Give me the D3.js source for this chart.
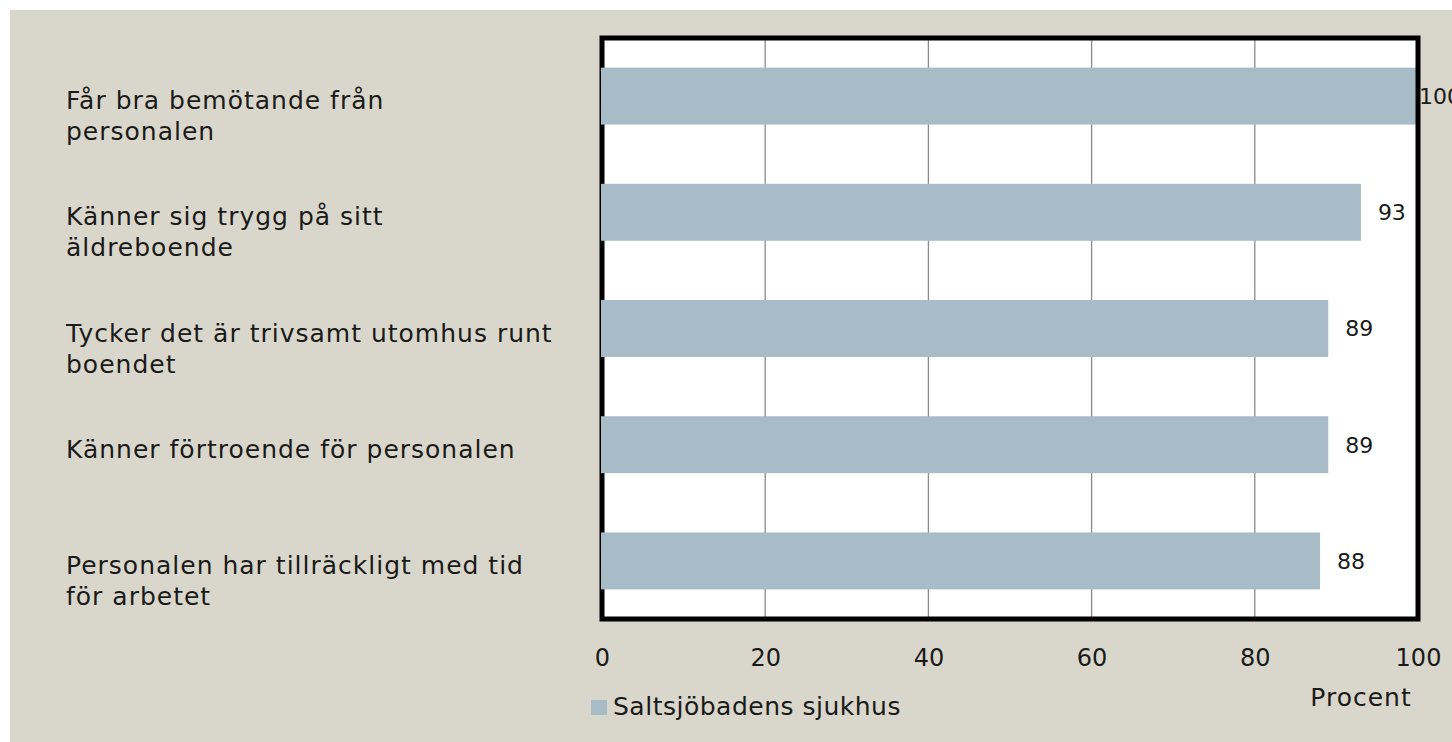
<!DOCTYPE html>
<html>
<head>
<meta charset="utf-8">
<script src="https://cdn.jsdelivr.net/npm/d3@7"></script>
<style>
body { margin: 0; background: #fff; }
text { font-family: "DejaVu Sans", sans-serif; fill: #1a1a1a; }
.grid-line { stroke: #8a8a8a; stroke-width: 1.3; }
</style>
</head>
<body>
<script>
const width = 1452, height = 742;

const categories = [
    ["Får bra bemötande från", "personalen"],
    ["Känner sig trygg på sitt", "äldreboende"],
    ["Tycker det är trivsamt utomhus runt", "boendet"],
    ["Känner förtroende för personalen"],
    ["Personalen har tillräckligt med tid", "för arbetet"]
];
const values = [100, 93, 89, 89, 88];
const tickValues = [0, 20, 40, 60, 80, 100];
const seriesName = "Saltsjöbadens sjukhus";
const axisTitle = "Procent";

const plot = {left: 602, right: 1418, top: 38, bottom: 619};

const svg = d3.select("body").append("svg")
.attr("width", width)
.attr("height", height);

svg.append("rect")
.attr("x", 10)
.attr("y", 10)
.attr("width", width - 10)
.attr("height", height - 10)
.attr("fill", "#d9d7cb");

const scaleX = d3.scaleLinear()
.domain([0, 100])
.range([plot.left, plot.right]);

const scaleY = d3.scaleBand()
.domain(d3.range(categories.length))
.range([plot.top, plot.bottom])
.paddingInner(0.51)
.paddingOuter(0.255);

svg.append("rect")
.attr("x", plot.left)
.attr("y", plot.top)
.attr("width", plot.right - plot.left)
.attr("height", plot.bottom - plot.top)
.attr("fill", "#fff");

// grid lines
svg.append("g")
.selectAll("line")
.data(tickValues.slice(1, -1))
.enter()
.append("line")
.attr("class", "grid-line")
.attr("x1", (d) => scaleX(d))
.attr("x2", (d) => scaleX(d))
.attr("y1", plot.top)
.attr("y2", plot.bottom);

// bars
svg.append("g")
.selectAll("rect")
.data(values)
.enter()
.append("rect")
.attr("x", scaleX(0))
.attr("y", (d, i) => scaleY(i))
.attr("width", (d) => scaleX(d) - scaleX(0))
.attr("height", scaleY.bandwidth())
.attr("fill", "#a7bcc6");

// frame
svg.append("path")
.attr("d", `M${plot.left},${plot.top}H${plot.right}V${plot.bottom}H${plot.left}Z`)
.attr("fill", "none")
.attr("stroke", "#000")
.attr("stroke-width", 5);

// bars sit over the left frame edge
svg.append("g")
.selectAll("rect")
.data(values)
.enter()
.append("rect")
.attr("x", scaleX(0) - 1)
.attr("y", (d, i) => scaleY(i))
.attr("width", 4)
.attr("height", scaleY.bandwidth())
.attr("fill", "#a7bcc6");

// value labels
svg.append("g")
.selectAll("text")
.data(values)
.enter()
.append("text")
.attr("x", (d) => Math.min(scaleX(d) + 17, scaleX(100) + 1))
.attr("y", (d, i) => scaleY(i) + scaleY.bandwidth() / 2)
.attr("dy", "0.36em")
.attr("font-size", 22)
.text((d) => d);

// category labels
const cat = svg.append("g")
.selectAll("text")
.data(categories)
.enter()
.append("text")
.attr("x", 66)
.attr("y", (d, i) => scaleY(i) + scaleY.bandwidth() / 2 + 4)
.attr("font-size", 25)
.attr("letter-spacing", 1);

cat.selectAll("tspan")
.data((d) => d)
.enter()
.append("tspan")
.attr("x", 66)
.attr("dy", (d, i) => i === 0 ? "0.36em" : 31)
.text((d) => d);

// x axis
const axisX = d3.axisBottom(scaleX)
.tickValues(tickValues)
.tickSize(0)
.tickPadding(0);

const gx = svg.append("g")
.attr("transform", `translate(0, ${plot.bottom})`)
.call(axisX);
gx.select(".domain").remove();
gx.selectAll("text")
.attr("y", 47)
.attr("dy", 0)
.attr("font-size", 24)
.attr("font-family", "DejaVu Sans, sans-serif")
.attr("fill", "#1a1a1a");

svg.append("text")
.attr("x", 1361)
.attr("y", 706)
.attr("text-anchor", "middle")
.attr("font-size", 25)
.attr("letter-spacing", 1)
.text(axisTitle);

// legend
svg.append("rect")
.attr("x", 591)
.attr("y", 700)
.attr("width", 16)
.attr("height", 15)
.attr("fill", "#a7bcc6");

svg.append("text")
.attr("x", 613)
.attr("y", 715)
.attr("font-size", 25)
.attr("letter-spacing", 0.5)
.text(seriesName);
</script>
</body>
</html>
